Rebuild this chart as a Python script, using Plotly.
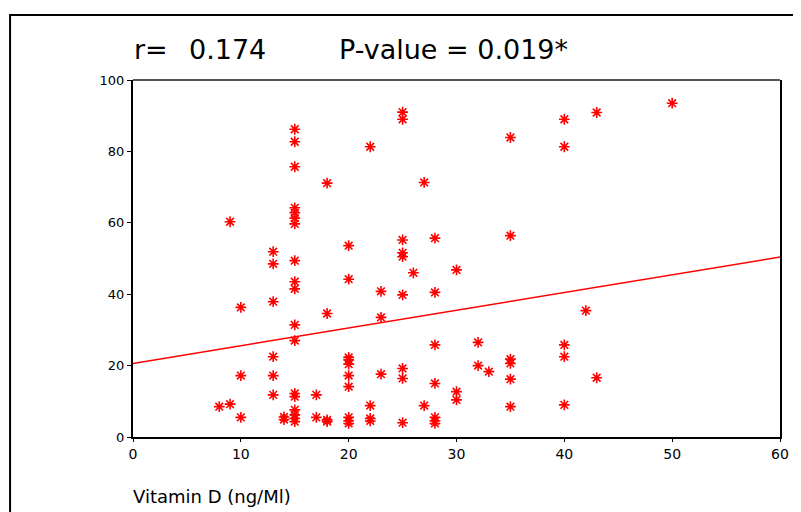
import plotly.graph_objects as go

# Scatter data: Vitamin D (ng/Ml) vs outcome
vit_d = [8, 9, 9,
         10, 10, 10,
         13, 13, 13, 13, 13, 13,
         14, 14,
         15, 15, 15, 15, 15, 15, 15, 15, 15, 15, 15, 15, 15, 15, 15, 15, 15, 15,
         17, 17,
         18, 18, 18, 18,
         20, 20, 20, 20, 20, 20, 20, 20, 20, 20,
         22, 22, 22, 22,
         23, 23, 23,
         25, 25, 25, 25, 25, 25, 25, 25, 25,
         26,
         27, 27,
         28, 28, 28, 28, 28, 28, 28,
         30, 30, 30,
         32, 32,
         33,
         35, 35, 35, 35, 35, 35,
         40, 40, 40, 40, 40,
         42,
         43, 43,
         50]
outcome = [8.5, 60.3, 9.2,
           36.3, 17.2, 5.5,
           51.9, 48.5, 37.9, 22.5, 17.2, 11.8,
           5.6, 4.9,
           86.2, 82.7, 75.7, 64.2, 62.8, 61.3, 59.7, 49.4, 43.5, 41.5, 31.4, 27.0, 12.2, 11.3, 7.6, 6.2, 5.2, 4.3,
           11.8, 5.5,
           71.1, 34.6, 4.8, 4.3,
           53.6, 44.2, 22.3, 21.6, 20.4, 17.2, 14.1, 5.5, 4.5, 3.8,
           81.3, 8.8, 5.2, 4.5,
           40.8, 33.5, 17.6,
           91.0, 89.0, 55.2, 51.6, 50.5, 39.8, 19.2, 16.4, 4.0,
           46.0,
           71.3, 8.8,
           55.7, 40.5, 25.8, 15.0, 5.5, 4.5, 3.8,
           46.8, 12.7, 10.4,
           26.5, 20.0,
           18.3,
           83.9, 56.4, 21.8, 20.6, 16.2, 8.5,
           89.0, 81.3, 25.8, 22.5, 9.0,
           35.4,
           90.9, 16.6,
           93.5]

# Fitted regression line endpoints
fit_x = [0, 60]
fit_y = [20.6, 50.4]

x_ticks = [0, 10, 20, 30, 40, 50, 60]
y_ticks = [0, 20, 40, 60, 80, 100]

title_r = "r="
title_rval = "0.174"
title_p = "P-value = 0.019*"
x_title = "Vitamin D (ng/Ml)"

FONT = "DejaVu Sans"

fig = go.Figure()
fig.add_trace(go.Scatter(
    x=fit_x, y=fit_y, mode="lines",
    line=dict(color="red", width=1.5), showlegend=False, hoverinfo="skip"))
fig.add_trace(go.Scatter(
    x=vit_d, y=outcome, mode="markers",
    marker=dict(symbol="asterisk-open", size=9, color="red",
                line=dict(color="red", width=1.6)),
    showlegend=False))

OFF = 8  # page body margin offset
W, H = 801 - OFF, 512 - OFF
L = 133 - OFF
T = 80 - OFF
R = W - (783 - OFF)
B = H - (437 - OFF)
pw, ph = W - L - R, H - T - B

def px(xs):
    return (xs - OFF - L) / pw

def py(ys):
    return (H - B - (ys - OFF)) / ph

fig.update_layout(
    width=W, height=H,
    margin=dict(l=L, r=R, t=T, b=B, pad=0),
    paper_bgcolor="white", plot_bgcolor="white",
    font=dict(family=FONT, color="black"),
    xaxis=dict(range=[0, 60], tickvals=x_ticks, ticktext=[str(v) for v in x_ticks],
               showgrid=False, zeroline=False, showline=True,
               linecolor="black", linewidth=2,
               ticks="outside", ticklen=3, tickwidth=1, tickcolor="black",
               tickfont=dict(size=14, family=FONT)),
    yaxis=dict(range=[0, 100], tickvals=y_ticks, ticktext=[str(v) for v in y_ticks],
               showgrid=False, zeroline=False, showline=True, mirror=True,
               linecolor="black", linewidth=2,
               ticks="outside", ticklen=4, tickwidth=1, tickcolor="black",
               tickfont=dict(size=13, family=FONT)),
    shapes=[
        dict(type="line", xref="paper", yref="paper", x0=0, x1=1, y0=1, y1=1,
             line=dict(color="#555555", width=2)),
        dict(type="rect", xref="paper", yref="paper",
             x0=px(9.5), x1=px(801 + 20), y0=py(512 + 20), y1=py(15),
             line=dict(color="black", width=2)),
    ],
)

ann_y = py(49)
for txt, xl in [(title_r, 132), (title_rval, 187), (title_p, 338)]:
    fig.add_annotation(text=txt, xref="paper", yref="paper", x=px(xl), y=ann_y,
                       xanchor="left", yanchor="middle", showarrow=False,
                       font=dict(size=27, family=FONT, color="black"))

fig.add_annotation(text=x_title, xref="paper", yref="paper", x=px(131), y=py(496),
                   xanchor="left", yanchor="middle", showarrow=False,
                   font=dict(size=18, family=FONT, color="black"))

fig.write_html("out.html")
